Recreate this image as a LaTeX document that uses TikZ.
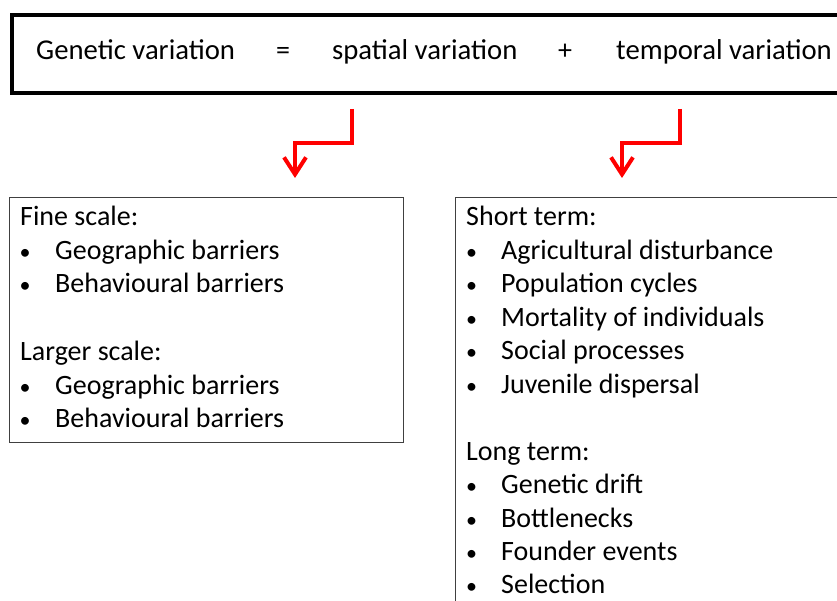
\documentclass[tikz,border=0pt]{standalone}
\usepackage{fontspec}
\setmainfont{Carlito}
\usetikzlibrary{arrows.meta}
\definecolor{boxgray}{HTML}{404040}
\begin{document}
\begin{tikzpicture}[x=1pt,y=1pt,
  txt/.style={inner sep=0pt,anchor=base west,font=\fontsize{28}{33}\selectfont},
  toptxt/.style={txt,font=\fontsize{28.7}{33}\selectfont},
  bul/.style={inner sep=0pt,anchor=base,font=\fontsize{28}{33}\selectfont},
  dot/.style={inner sep=0pt,anchor=base,font=\fontsize{22}{33}\selectfont},
  topbox/.style={draw=black,line width=4pt,inner sep=0pt,anchor=north west},
  listbox/.style={draw=boxgray,line width=1.4pt,inner sep=0pt,anchor=north west},
  redarr/.style={draw=red,line width=4pt,line join=miter,
    -{Straight Barb[length=17pt,width=22pt,line width=4pt]}}]
\clip (0,0) rectangle (837,-601);
\fill[white] (0,0) rectangle (837,-601);

% top box
\node[topbox,minimum width=860pt,minimum height=78pt] (eqbox) at (9.5,-13) {};
\node[toptxt] (gv) at (36,-60) {Genetic variation};
\node[bul] (eq) at (283,-60) {=};
\node[toptxt] (sv) at (332,-60) {spatial variation};
\node[bul] (plus) at (565,-60) {+};
\node[toptxt] (tv) at (616,-60) {temporal variation};

% lower boxes
\node[listbox,minimum width=394pt,minimum height=245pt] (spbox) at (9,-197) {};
\node[listbox,minimum width=500pt,minimum height=500pt] (tpbox) at (455,-197) {};

% arrows
\coordinate (a1) at (352,-109);
\coordinate (b1) at (295,-178);
\coordinate (a2) at (680,-109);
\coordinate (b2) at (622,-178);
\draw[redarr] (a1) -- ++(0,-34) -| (b1);
\draw[redarr] (a2) -- ++(0,-34) -| (b2);

% left list
\node[txt] (fs) at (20,-226) {Fine scale:};
\node[dot] (fb1) at (25,-260) {•};
\node[txt] (f1) at (55,-260) {Geographic barriers};
\node[dot] (fb2) at (25,-293) {•};
\node[txt] (f2) at (55,-293) {Behavioural barriers};
\node[txt] (ls) at (20,-360) {Larger scale:};
\node[dot] (lb1) at (25,-394) {•};
\node[txt] (l1) at (55,-394) {Geographic barriers};
\node[dot] (lb2) at (25,-427) {•};
\node[txt] (l2) at (55,-427) {Behavioural barriers};

% right list
\node[txt] (st) at (466,-226) {Short term:};
\foreach \t [count=\i] in {Agricultural disturbance,Population cycles,Mortality of individuals,Social processes,Juvenile dispersal}{
  \node[dot] (sb\i) at (471.5,{-226-33.45*\i}) {•};
  \node[txt] (s\i) at (501,{-226-33.45*\i}) {\t};
}
\node[txt] (lt) at (466,{-226-33.45*7}) {Long term:};
\foreach \t [count=\i] in {Genetic drift,Bottlenecks,Founder events,Selection}{
  \node[dot] (tb\i) at (471.5,{-226-33.45*(7+\i)}) {•};
  \node[txt] (t\i) at (501,{-226-33.45*(7+\i)}) {\t};
}
\end{tikzpicture}
\end{document}
